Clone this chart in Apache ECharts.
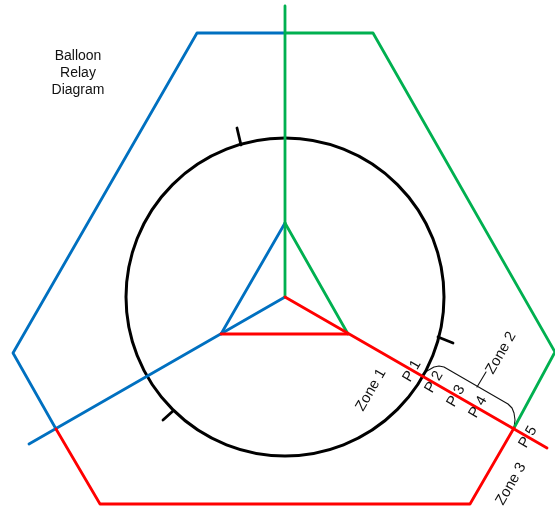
<!DOCTYPE html>
<html><head><meta charset="utf-8">
<style>html,body{margin:0;padding:0;background:#fff}#c{width:555px;height:506px}</style>
<script src="https://cdn.jsdelivr.net/npm/echarts@6/dist/echarts.min.js"></script>
</head><body><div id="c"></div>
<script>
const greenSpoke = [[285,6],[285,297]];
const greenTriangle = [[285,223],[348,334]];
const greenOuter = [[285,33],[373,33],[555,352],[514,428]];
const blueSpoke = [[285,297],[29,444]];
const blueTriangle = [[285,223],[221,334]];
const blueOuter = [[285,33],[197,33],[13,353],[56,429]];
const redSpoke = [[285,297],[547,448]];
const redTriangle = [[221,334],[348,334]];
const redOuter = [[56,429],[100,504],[470,504],[514,428]];
const tickTop = [[237,128],[241,145]];
const tickRight = [[438,337],[453,343]];
const tickBottom = [[173,411],[163,420]];
const bracket = [[422,375],[427,371],[434,367],[439,366],[444,367],[508,404],[512,408],[514,413],[515,420],[514,428]];
const leader = [[477,387],[486,372]];
const circleCentre = [[285,297]];
const titleLabel = ['Balloon\nRelay\nDiagram',78,73.5,0,14];
const labels = [
  titleLabel,
  ['Zone 1',371,390,60,14.8],
  ['Zone 2',501,353,60,14.8],
  ['Zone 3',511,484,60,14.8],
  ['P 1',412,371,60,14.8],
  ['P 2',434,382,60,14.8],
  ['P 3',456,396,60,14.8],
  ['P 4',478,407,60,14.8],
  ['P 5',528,437,60,14.8]
];
const green='#00B050', blue='#0070C0', red='#FF0000', black='#000000';
const line=(data,color,width,z)=>({type:'line',data,showSymbol:false,symbol:'none',clip:false,silent:true,z:z||2,
  lineStyle:{color,width:width||2.8,cap:'round',join:'round'}});
const option={
  animation:false,backgroundColor:'#fff',
  grid:{left:0,right:0,top:0,bottom:0},
  xAxis:{type:'value',min:0,max:555,show:false},
  yAxis:{type:'value',min:0,max:506,inverse:true,show:false},
  series:[
    {type:'scatter',data:circleCentre,symbol:'circle',symbolSize:318,silent:true,z:1,clip:false,
     itemStyle:{color:'rgba(0,0,0,0)',borderColor:black,borderWidth:3,opacity:1}},
    line(tickTop,black,2.8,1),line(tickRight,black,2.8,1),line(tickBottom,black,2.8,1),
    line(bracket,'#111',1.1,1),line(leader,'#111',1.1,1),
    line(blueOuter,blue),line(blueSpoke,blue),line(blueTriangle,blue),
    line(greenOuter,green),line(greenSpoke,green),line(greenTriangle,green),
    line(redOuter,red,2.8,3),line(redSpoke,red,2.8,3),line(redTriangle,red,2.8,3),
    {type:'scatter',symbolSize:0,silent:true,clip:false,z:5,itemStyle:{opacity:1},
     data:labels.map(l=>({value:[l[1],l[2]],label:{show:true,position:'inside',formatter:l[0],rotate:l[3],
       fontFamily:'Liberation Sans',fontSize:l[4],lineHeight:17,color:'#111',align:'center',verticalAlign:'middle'}}))}
  ]
};
echarts.init(document.getElementById('c'),null,{renderer:'canvas'}).setOption(option);
</script></body></html>
